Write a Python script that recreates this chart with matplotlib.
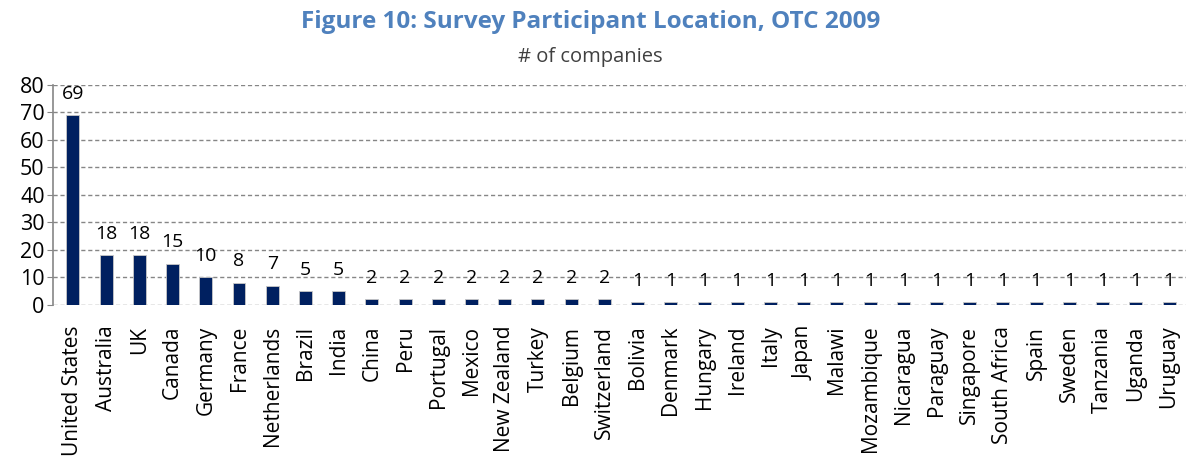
import matplotlib.pyplot as plt

plt.rcParams['font.family'] = ['Open Sans', 'DejaVu Sans']

countries = ['United States', 'Australia', 'UK', 'Canada', 'Germany', 'France',
             'Netherlands', 'Brazil', 'India', 'China', 'Peru', 'Portugal',
             'Mexico', 'New Zealand', 'Turkey', 'Belgium', 'Switzerland',
             'Bolivia', 'Denmark', 'Hungary', 'Ireland', 'Italy', 'Japan',
             'Malawi', 'Mozambique', 'Nicaragua', 'Paraguay', 'Singapore',
             'South Africa', 'Spain', 'Sweden', 'Tanzania', 'Uganda', 'Uruguay']
companies = [69, 18, 18, 15, 10, 8, 7, 5, 5, 2, 2, 2, 2, 2, 2, 2, 2,
             1, 1, 1, 1, 1, 1, 1, 1, 1, 1, 1, 1, 1, 1, 1, 1, 1]
yticks = [0, 10, 20, 30, 40, 50, 60, 70, 80]

fig = plt.figure(figsize=(11.86, 4.57), dpi=100)
ax = fig.add_axes([0.0447, 0.333, 0.955, 0.481])

x = range(len(countries))
ax.bar(x, companies, width=0.39, color='#002060', edgecolor='#c8c8c8', linewidth=0.6, zorder=3)

for i, v in enumerate(companies):
    ax.annotate(str(v), (i, v), xytext=(0, 9), textcoords='offset points',
                ha='center', va='bottom', fontsize=14, color='black', zorder=4,
                annotation_clip=False)

ax.set_xlim(-0.6, len(countries) - 0.5)
ax.set_ylim(0, 80)
ax.set_yticks(yticks)
ax.tick_params(axis='y', labelsize=15.5, length=4, color='#868686', pad=2)
ax.tick_params(axis='x', length=0, pad=15)
ax.set_xticks(list(x))
ax.set_xticklabels(countries, rotation=90, fontsize=15)

ax.yaxis.grid(True, linestyle=(0, (3, 2)), color='#868686', linewidth=1, zorder=0)
for s in ['top', 'right', 'bottom']:
    ax.spines[s].set_visible(False)
ax.spines['left'].set_color('#868686')
ax.spines['left'].set_linewidth(1.2)

fig.text(0.498, 0.952, 'Figure 10: Survey Participant Location, OTC 2009', ha='center', va='center',
         fontsize=17.5, fontweight='bold', color='#4f81bd')
fig.text(0.498, 0.875, '# of companies', ha='center', va='center', fontsize=14.5, color='#404040')

fig.savefig('out.png', dpi=100)
